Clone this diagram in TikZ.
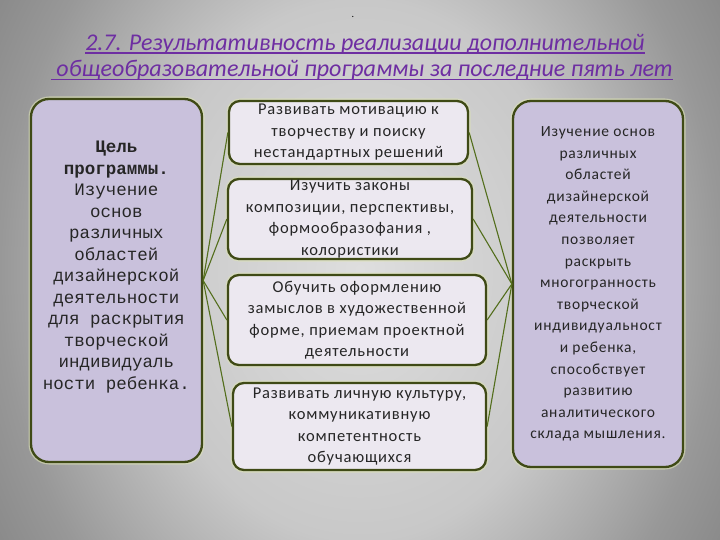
\documentclass[tikz,border=0pt]{standalone}
\usepackage{fontspec}
\setmainfont{Carlito}
\newfontfamily\monofnt{Liberation Mono}
\newfontfamily\spacedfnt[LetterSpace=5]{Carlito}
\definecolor{boxline}{HTML}{3F4A16}
\definecolor{connline}{HTML}{536E1C}
\definecolor{lav}{HTML}{C9C1DC}
\definecolor{pale}{HTML}{ECE8F0}
\definecolor{halo}{HTML}{DCE2B4}
\definecolor{ttl}{HTML}{6E2EA2}
\definecolor{txt}{HTML}{262626}
\definecolor{bgA}{HTML}{DEDEDE}
\definecolor{bgB}{HTML}{C8C8C8}
\definecolor{bgC}{HTML}{989898}
\definecolor{bgD}{HTML}{888888}
\pgfdeclareradialshading{bgshade}{\pgfpoint{0bp}{0bp}}{color(0bp)=(bgA); color(15bp)=(bgB); color(25bp)=(bgC); color(30bp)=(bgD); color(50bp)=(bgD)}
\tikzset{
  boxbase/.style={draw=boxline, line width=2.3pt, inner sep=0pt,
    preaction={draw=halo, line width=5pt, opacity=0.6}},
  sidebox/.style={boxbase, fill=lav, rounded corners=18pt},
  midbox/.style={boxbase, fill=pale, rounded corners=11pt, align=center,
    font=\spacedfnt\fontsize{16.5}{21.5}\selectfont, text=txt},
  conn/.style={draw=connline, line width=1.1pt},
  ttlstyle/.style={inner sep=0pt, text=ttl, font=\fontsize{24}{28}\selectfont\itshape},
  uline/.style={draw=ttl, line width=1.3pt}
}
\begin{document}
\begin{tikzpicture}[x=1pt,y=-1pt]
\useasboundingbox (0,0) rectangle (720,540);
\begin{scope}
\clip (0,0) rectangle (720,540);
\shade[shading=bgshade] (0,-180) rectangle (720,720);
\end{scope}

% title
\node[inner sep=0pt] (dot) at (353,17) {.};
\node[ttlstyle] (t1) at (365,44) {2.7. Результативность реализации дополнительной};
\node[ttlstyle] (t2) at (362,70) {\ общеобразовательной программы за последние пять лет};
\draw[uline] ([yshift=-3pt]t1.base west) -- ([yshift=-3pt]t1.base east);
\draw[uline] ([yshift=-3pt]t2.base west) -- ([yshift=-3pt]t2.base east);

% side boxes
\node[sidebox, minimum width=171pt, minimum height=363pt] (L) at (116.5,280.5) {};
\node[align=center, inner sep=0pt, text=txt, font=\monofnt\fontsize{17.5}{21.5}\selectfont] (ltext) at (116.5,267)
 {\textbf{Цель}\\ \textbf{программы.}\\ Изучение\\ основ\\ различных\\ областей\\ дизайнерской\\ деятельности\\ для раскрытия\\ творческой\\ индивидуаль\\ ности ребенка.};

\node[sidebox, minimum width=170pt, minimum height=366pt, align=center,
  font=\spacedfnt\fontsize{15.5}{21.6}\selectfont, text=txt] (R) at (598,284)
 {Изучение основ\\ различных\\ областей\\ дизайнерской\\ деятельности\\ позволяет\\ раскрыть\\ многогранность\\ творческой\\ индивидуальност\\ и ребенка,\\ способствует\\ развитию\\ аналитического\\ склада мышления.};

% middle boxes
\node[midbox, minimum width=239pt, minimum height=63pt] (m1) at (348.5,132.5)
 {Развивать мотивацию к\\ творчеству и поиску\\ нестандартных решений};
\node[midbox, minimum width=244pt, minimum height=80pt] (m2) at (350,219)
 {Изучить законы\\ композиции, перспективы,\\ формообразофания ,\\ колористики};
\node[midbox, minimum width=258pt, minimum height=90pt] (m3) at (357,320)
 {Обучить оформлению\\ замыслов в художественной\\ форме, приемам проектной\\ деятельности};
\node[midbox, minimum width=253pt, minimum height=87pt] (m4) at (359.5,426.5)
 {Развивать личную культуру,\\ коммуникативную\\ компетентность\\ обучающихся};

% connectors
\foreach \m in {m1,m2,m3,m4}{
  \draw[conn] (L.east) -- (\m.west);
  \draw[conn] (R.west) -- (\m.east);
}
\end{tikzpicture}
\end{document}
